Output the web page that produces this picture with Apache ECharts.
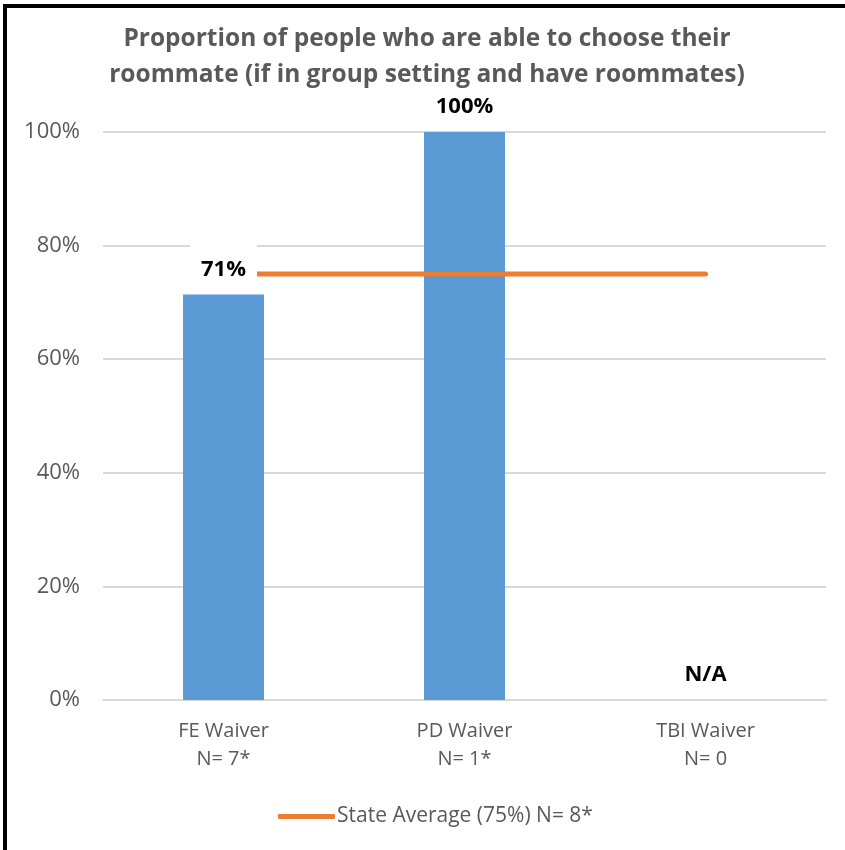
<!DOCTYPE html>
<html>
<head>
<meta charset="utf-8">
<script src="https://cdn.jsdelivr.net/npm/echarts@6/dist/echarts.min.js"></script>
<style>
html,body{margin:0;padding:0;background:#fff;}
#chart{width:845px;height:850px;}
</style>
</head>
<body>
<div id="chart"></div>
<script>
const titleLines = ["Proportion of people who are able to choose their", "roommate (if in group setting and have roommates)"];
const categories = ["FE Waiver\nN= 7*", "PD Waiver\nN= 1*", "TBI Waiver\nN= 0"];
const barValues = [71.4, 100, null];
const labelValues = [71.4, 100, 0];
const labelTexts = ["71%", "100%", "N/A"];
const averageName = "State Average (75%) N= 8*";
const averageValues = [75, 75, 75];
const yTicks = [0, 20, 40, 60, 80, 100];

const FONT = "'Open Sans', sans-serif";
const chart = echarts.init(document.getElementById('chart'), null, {renderer: 'canvas'});
chart.setOption({
  backgroundColor: '#fff',
  animation: false,
  title: {
    text: titleLines.join('\n'),
    left: 427,
    top: 21,
    padding: 0,
    textAlign: 'center',
    textStyle: {fontFamily: FONT, fontSize: 24.5, fontWeight: 'bold', color: '#595959', lineHeight: 36}
  },
  graphic: [
    {type: 'rect', left: 3, top: 4, shape: {width: 842, height: 4}, style: {fill: '#000'}},
    {type: 'rect', left: 3, top: 4, shape: {width: 4, height: 846}, style: {fill: '#000'}}
  ],
  legend: {
    data: [averageName],
    left: 273,
    top: 801,
    itemWidth: 57,
    itemHeight: 5,
    itemGap: 3,
    icon: 'roundRect',
    textStyle: {fontFamily: FONT, fontSize: 21, color: '#595959', padding: [0, 0, 0, -3]}
  },
  grid: {left: 103, right: 19, top: 132, bottom: 150},
  xAxis: {
    type: 'category',
    data: categories,
    axisLine: {lineStyle: {color: '#d9d9d9', width: 2}},
    axisTick: {show: false},
    axisLabel: {fontFamily: FONT, fontSize: 20, color: '#595959', lineHeight: 28, margin: 17}
  },
  yAxis: {
    type: 'value',
    min: yTicks[0],
    max: yTicks[yTicks.length - 1],
    interval: yTicks[1] - yTicks[0],
    axisLine: {show: false},
    axisTick: {show: false},
    axisLabel: {formatter: '{value}%', fontFamily: FONT, fontSize: 22, color: '#595959', margin: 23},
    splitLine: {lineStyle: {color: '#d9d9d9', width: 2}}
  },
  series: [
    {
      type: 'bar',
      data: barValues,
      barWidth: 81,
      itemStyle: {color: '#5b9bd5'},
      z: 2
    },
    {
      name: averageName,
      type: 'line',
      data: averageValues,
      symbol: 'none',
      lineStyle: {color: '#ed7d31', width: 5, cap: 'round'},
      itemStyle: {color: '#ed7d31'},
      z: 3
    },
    {
      type: 'scatter',
      data: labelValues.map((v, i) => ({
        value: v,
        label: i === 0 ? {backgroundColor: '#fff', padding: [14, 11, 4, 11]} : {padding: [14, 10, 4, 10]}
      })),
      symbolSize: 0,
      itemStyle: {opacity: 1},
      zlevel: 1,
      z: 10,
      silent: true,
      label: {
        show: true,
        position: 'top',
        distance: 10,
        opacity: 1,
        formatter: p => labelTexts[p.dataIndex],
        fontFamily: FONT,
        fontSize: 22,
        fontWeight: 'bold',
        color: '#000'
      }
    }
  ]
});
</script>
</body>
</html>
